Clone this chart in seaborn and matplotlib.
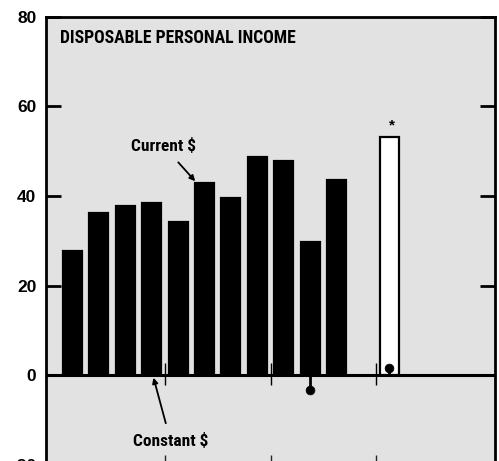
import matplotlib
matplotlib.use("Agg")
import matplotlib.pyplot as plt
import seaborn as sns

# values (billions of dollars, change)
slots = [0, 1, 2, 3, 4, 5, 6, 7, 8, 9, 10, 12]
current = [27.6, 36.2, 37.7, 38.4, 34.3, 42.9, 39.6, 48.8, 47.9, 29.7, 43.6, 53.2]
kind = ["actual"] * 11 + ["estimate"]
const_slots = [9, 12]
constant = [-3.4, 1.6]
year_breaks = [3.5, 7.5, 11.5]
ytick_vals = [-20, 0, 20, 40, 60, 80]

sns.set_theme(style="ticks")
plt.rcParams["font.family"] = ["Liberation Sans", "DejaVu Sans"]
plt.rcParams["text.color"] = "black"
narrow = ["Roboto Condensed", "DejaVu Sans"]

fig = plt.figure(figsize=(4.99, 4.61), dpi=100)
ax = fig.add_axes([46 / 499, -3.5 / 461, 449 / 499, 447.5 / 461])
ax.set_facecolor("#e2e2e2")

sns.barplot(x=slots, y=current, hue=kind, native_scale=True, width=0.72,
            palette={"actual": "black", "estimate": "white"},
            edgecolor="black", linewidth=1.6, legend=False, ax=ax, zorder=3)

# constant dollar change: stems with dots
ax.vlines(const_slots, 0, constant, color="black", lw=2, zorder=4)
sns.scatterplot(x=const_slots, y=constant, color="black", s=40, ax=ax,
                zorder=5, edgecolor="black")

ax.axhline(0, color="black", lw=2.2, zorder=6)
ax.vlines(year_breaks, -2.3, 2.6, color="black", lw=1, zorder=6)

ax.set_xlim(-1, 16)
ax.set_ylim(-20, 80)
ax.set_yticks(ytick_vals)
ax.set_yticklabels([str(v) for v in ytick_vals], fontsize=12.5, fontweight="bold")
ax.set_xticks(year_breaks)
ax.set_xticklabels([])
ax.tick_params(axis="y", direction="in", length=11, width=2, pad=7,
               left=True, right=True, colors="black")
ax.tick_params(axis="x", direction="in", length=7, width=1, bottom=True)
ax.set_xlabel("")
ax.set_ylabel("")
for s in ax.spines.values():
    s.set_linewidth(2)
    s.set_color("black")

ax.text(0.031, 0.942, "DISPOSABLE PERSONAL INCOME", transform=ax.transAxes,
        family=narrow, fontsize=12.7, fontweight="bold", va="baseline", ha="left")

ax.annotate("Current $", xy=(4.65, 43.3), xytext=(3.45, 51.2),
            family=narrow, fontsize=12.5, fontweight="bold", ha="center", va="center",
            arrowprops=dict(arrowstyle="-|>", color="black", lw=1.3,
                            mutation_scale=8, shrinkA=5, shrinkB=0))
ax.annotate("Constant $", xy=(3.07, -0.6), xytext=(3.72, -14.8),
            family=narrow, fontsize=12.5, fontweight="bold", ha="center", va="center",
            arrowprops=dict(arrowstyle="-|>", color="black", lw=1.3,
                            mutation_scale=8, shrinkA=5, shrinkB=0))
ax.text(12.1, 54.3, "*", fontsize=11, fontweight="bold", ha="center", va="bottom")

fig.savefig("out.png", dpi=100)
